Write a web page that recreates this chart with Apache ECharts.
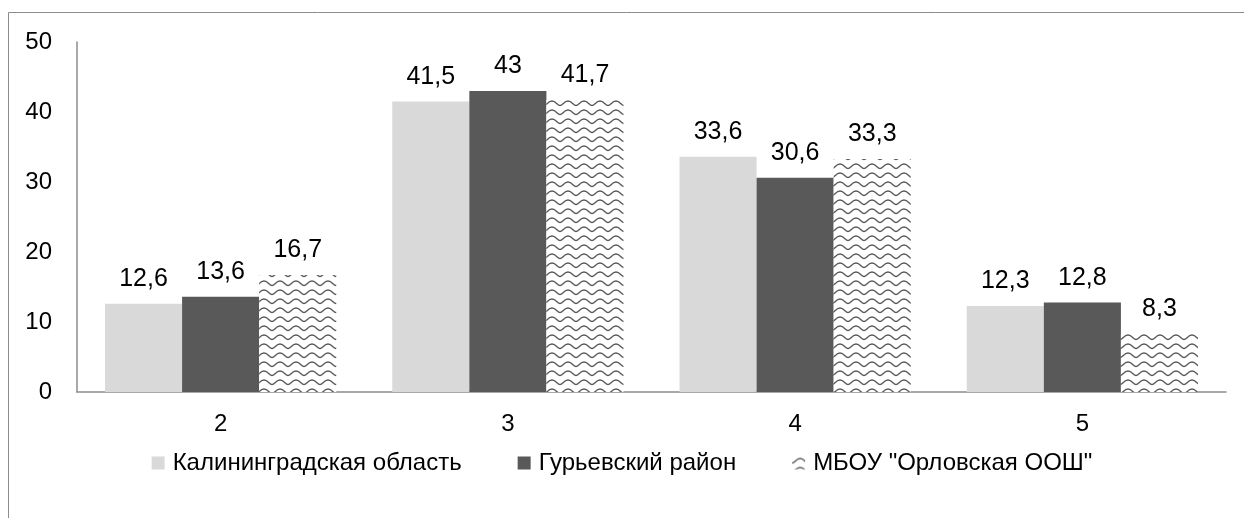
<!DOCTYPE html>
<html><head><meta charset="utf-8">
<script src="https://cdn.jsdelivr.net/npm/echarts@6/dist/echarts.min.js"></script>
<style>html,body{margin:0;padding:0;background:#fff}#c{width:1244px;height:518px}</style>
</head><body><div id="c"></div>
<script>
const categories = ['2', '3', '4', '5'];
const seriesNames = ['Калининградская область', 'Гурьевский район', 'МБОУ "Орловская ООШ"'];
const region = [12.6, 41.5, 33.6, 12.3];
const district = [13.6, 43, 30.6, 12.8];
const school = [16.7, 41.7, 33.3, 8.3];
const yTicks = [0, 10, 20, 30, 40, 50];

function wavePattern() {
  const c = document.createElement('canvas');
  c.width = 16; c.height = 9;
  const g = c.getContext('2d');
  g.fillStyle = '#fff'; g.fillRect(0, 0, 16, 9);
  g.strokeStyle = '#5a5a5a'; g.lineWidth = 1.4;
  g.beginPath();
  g.moveTo(0, 6.5);
  g.bezierCurveTo(2.5, 6.5, 4, 2, 8, 2);
  g.bezierCurveTo(12, 2, 13.5, 6.5, 16, 6.5);
  g.stroke();
  return c;
}
const font = '"Liberation Sans", "DejaVu Sans", sans-serif';
const fmt = p => String(p.value).replace('.', ',');
const lbl = {show: true, position: 'top', distance: 12, color: '#000', fontSize: 25, fontFamily: font, formatter: fmt};

const chart = echarts.init(document.getElementById('c'));
chart.setOption({
  animation: false,
  backgroundColor: '#fff',
  graphic: [{type: 'rect', shape: {x: 8.5, y: 12.5, width: 1400, height: 700}, style: {fill: null, stroke: '#8c8c8c', lineWidth: 1}, silent: true}],
  grid: {left: 77, right: 18, top: 42, bottom: 126},
  legend: {
    top: 446, left: 'center', itemWidth: 13, itemHeight: 13, itemGap: 56,
    textStyle: {fontSize: 24, fontFamily: font, color: '#000', padding: [0, 0, 0, 3]},
    icon: 'rect',
    data: seriesNames
  },
  xAxis: {
    type: 'category', data: categories,
    axisLine: {lineStyle: {color: '#8c8c8c', width: 1.5}},
    axisTick: {show: false},
    axisLabel: {fontSize: 24, fontFamily: font, color: '#000', margin: 20}
  },
  yAxis: {
    type: 'value', min: 0, max: 50, interval: 10,
    axisLine: {show: true, lineStyle: {color: '#8c8c8c', width: 1.5}},
    axisTick: {show: false},
    splitLine: {show: false},
    axisLabel: {fontSize: 24, fontFamily: font, color: '#000', margin: 25}
  },
  series: [
    {name: seriesNames[0], type: 'bar', data: region, barGap: '0%', barCategoryGap: '19.5%', itemStyle: {color: '#d9d9d9'}, label: lbl},
    {name: seriesNames[1], type: 'bar', data: district, barGap: '0%', barCategoryGap: '19.5%', itemStyle: {color: '#595959'}, label: lbl},
    {name: seriesNames[2], type: 'bar', data: school, barGap: '0%', barCategoryGap: '19.5%', itemStyle: {color: {image: wavePattern(), repeat: 'repeat'}}, label: lbl}
  ]
});
</script></body></html>
